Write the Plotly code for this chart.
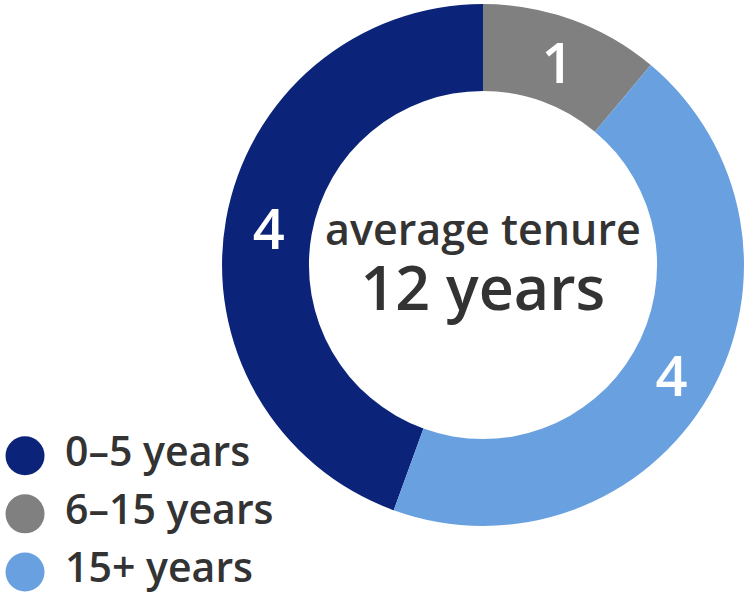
import plotly.graph_objects as go

# tenure groups and head counts
categories = ["0–5 years", "6–15 years", "15+ years"]
counts = [4, 1, 4]
colors = ["#0B247A", "#808080", "#69A0E0"]
center_top = "average tenure"
center_bottom = "12 years"

FONT = "Open Sans"
TEXT = "#333333"

fig = go.Figure()

fig.add_trace(go.Pie(
    labels=categories,
    values=counts,
    marker=dict(colors=colors, line=dict(width=0)),
    hole=0.667,
    sort=False,
    direction="clockwise",
    rotation=200,
    textinfo="value",
    insidetextorientation="horizontal",
    textfont=dict(family=FONT, size=56, color="white", weight=600),
    domain=dict(x=[0.2956, 0.9907], y=[0.1248, 0.9933]),
    showlegend=False,
    hoverinfo="label+value",
))

# legend drawn as big circles + labels
rows = list(range(len(categories)))
fig.add_trace(go.Scatter(
    x=[1] * len(categories), y=rows, mode="markers",
    marker=dict(size=39, color=colors, symbol="circle"),
    showlegend=False, hoverinfo="skip",
))
fig.add_trace(go.Scatter(
    x=[2.6] * len(categories), y=rows, mode="text",
    text=categories, textposition="middle right",
    textfont=dict(family=FONT, size=41, color=TEXT, weight=600),
    showlegend=False, hoverinfo="skip",
))

# centre label, two sizes in one block
fig.add_annotation(
    x=0.643, y=0.562, xref="paper", yref="paper", showarrow=False,
    text=(f"<span style='font-size:43px'>{center_top}</span><br>"
          f"<span style='font-size:61px'>{center_bottom}</span>"),
    font=dict(family=FONT, size=50, color=TEXT, weight=600),
)

fig.update_layout(
    width=751, height=601,
    margin=dict(l=0, r=0, t=0, b=0),
    paper_bgcolor="white", plot_bgcolor="rgba(0,0,0,0)",
    xaxis=dict(domain=[0, 0.4], range=[0, 12], visible=False, fixedrange=True),
    yaxis=dict(domain=[0, 0.29], range=[2.5, -0.5], visible=False, fixedrange=True),
)

# drop the default body margin so the figure sits at the page corner
fig.write_html("out.html", config={"displayModeBar": False},
               post_script="document.body.style.margin='0';")
